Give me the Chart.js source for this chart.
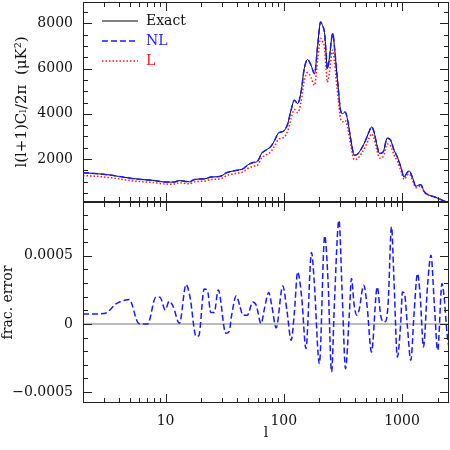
<!DOCTYPE html>
<html>
<head>
<meta charset="utf-8">
<script src="https://cdn.jsdelivr.net/npm/chart.js@4.4.1/dist/chart.umd.min.js"></script>
<style>
  html, body { margin: 0; padding: 0; background: #fff; }
  #wrap { position: relative; width: 450px; height: 450px; overflow: hidden; }
  #top { position: absolute; left: 0; top: 0; }
  #bottom { position: absolute; left: 0; top: 200px; }
</style>
</head>
<body>
<div id="wrap">
  <canvas id="top" width="450" height="204"></canvas>
  <canvas id="bottom" width="450" height="250"></canvas>
</div>
<script>
// multipole values for the power spectrum panel
const specEll = [2, 2.5, 3, 3.5, 4, 5, 6, 7, 8, 9, 10, 11, 12, 13, 14, 15, 16, 17, 18, 20,
  22, 24, 27, 30, 33, 36, 40, 45, 50, 55, 60, 65, 70, 78, 85, 90, 100, 108, 115, 123,
  131, 140, 149, 159, 170, 182, 194, 205, 213, 221, 228, 233, 245, 253, 260, 268, 278, 290, 302, 315,
  330, 347, 370, 394, 420, 454, 493, 526, 555, 580, 610, 647, 695, 750, 802, 857, 914, 977, 1043, 1100,
  1150, 1227, 1311, 1380, 1444, 1540, 1700, 1875, 2067, 2280, 2500];

const exactVals = [1390, 1360, 1320, 1280, 1230, 1150, 1100, 1070, 1050, 1000, 980, 975, 985, 1040, 1030, 1000, 990, 1060, 1100, 1110,
  1130, 1200, 1210, 1260, 1400, 1450, 1500, 1560, 1750, 1840, 1900, 2250, 2380, 2560, 2900, 3150, 3240, 3560, 4150, 4600,
  4450, 4970, 6000, 6400, 6150, 5780, 7100, 8070, 7900, 7600, 6700, 6000, 6600, 7300, 7560, 7000, 6080, 5050, 4160, 4010,
  4080, 3720, 2830, 2170, 2210, 2460, 2830, 3200, 3420, 3200, 2680, 2240, 2320, 2920, 2830, 2390, 2090, 1650, 1200, 1380,
  1470, 1180, 790, 840, 860, 560, 395, 330, 235, 135, 95];

const nlVals = [1390, 1360, 1320, 1280, 1230, 1150, 1100, 1070, 1050, 1000, 980, 975, 985, 1040, 1030, 1000, 990, 1060, 1100, 1110,
  1130, 1200, 1210, 1260, 1400, 1450, 1500, 1560, 1750, 1840, 1900, 2250, 2380, 2560, 2900, 3150, 3240, 3560, 4150, 4600,
  4450, 4970, 6000, 6400, 6150, 5780, 7100, 8070, 7900, 7600, 6700, 6000, 6600, 7300, 7560, 7000, 6080, 5050, 4160, 4010,
  4080, 3720, 2830, 2170, 2210, 2460, 2830, 3200, 3420, 3200, 2680, 2240, 2320, 2920, 2830, 2390, 2090, 1650, 1200, 1380,
  1470, 1180, 790, 840, 860, 560, 395, 330, 235, 135, 95];

const linVals = [1265, 1240, 1200, 1165, 1120, 1045, 1000, 975, 955, 910, 890, 885, 895, 945, 935, 910, 900, 965, 1000, 1010,
  1030, 1090, 1100, 1145, 1270, 1320, 1365, 1420, 1590, 1675, 1730, 2045, 2165, 2330, 2640, 2865, 2950, 3240, 3775, 4185,
  4050, 4520, 5460, 5825, 5600, 5260, 6460, 7340, 7190, 6920, 6000, 5400, 5950, 6570, 6820, 6300, 5470, 4590, 3785, 3650,
  3710, 3380, 2575, 1970, 2010, 2240, 2575, 2910, 3110, 2910, 2440, 2040, 2110, 2660, 2575, 2175, 1900, 1500, 1100, 1260,
  1340, 1060, 730, 770, 810, 530, 380, 318, 228, 132, 93];

// fractional error panel
const errEll = [2, 2.75, 3.13, 3.8, 4.6, 4.93, 5.8, 6.18, 7.04, 8.28, 8.95, 9.94, 10.7, 11.5, 13.1, 14.9, 16.1, 18.1, 19.1, 21.2,
  22.6, 24.1, 25.8, 27.9, 32.3, 34.5, 36.2, 39.6, 42.3, 45.1, 49.1, 54.7, 58.4, 64.3, 68.6, 74.6, 79, 86.2, 98, 106.7,
  115.4, 123, 131, 142, 154, 171.6, 181, 200, 222, 237, 254, 268, 293, 313, 333, 358, 374, 394, 415, 433,
  475, 506, 552, 618, 660, 696, 730, 765, 815, 857, 914, 977, 1008, 1057, 1110, 1188, 1268, 1353, 1425, 1520,
  1647, 1760, 1880, 2006, 2180, 2280, 2400, 2500];

const errVals = [0.74e-4, 0.74e-4, 0.8e-4, 1.47e-4, 1.76e-4, 1.79e-4, 0.12e-4, 0, 0, 1.96e-4, 1.96e-4, 1.03e-4, 1.66e-4, 1.35e-4, 0.05e-4, 2.89e-4, 1.96e-4, -0.91e-4, -0.86e-4, 2.57e-4,
  2.45e-4, 0.85e-4, 0.85e-4, 2.5e-4, -0.69e-4, -0.55e-4, 0.64e-4, 2.06e-4, 1.38e-4, 0.64e-4, 0.64e-4, 1.62e-4, 1.38e-4, 0.03e-4, 1.13e-4, 2.31e-4, 1.38e-4, -0.29e-4, 2.79e-4, 0.88e-4,
  -1.2e-4, 0.88e-4, 3.82e-4, 1.87e-4, -1.81e-4, 5.25e-4, 3.09e-4, -2.91e-4, 6.47e-4, 3.09e-4, -3.53e-4, 1.5e-4, 7.6e-4, 1.87e-4, -3.28e-4, 0.64e-4, 3.34e-4, 1.38e-4, 0.64e-4, 1.0e-4,
  2.85e-4, 1.38e-4, -2.06e-4, 2.72e-4, 0.64e-4, 0.15e-4, 0.2e-4, 1.62e-4, 7.13e-4, 3.09e-4, -2.42e-4, 0.15e-4, 2.35e-4, 2.1e-4, -0.1e-4, -2.67e-4, 0.88e-4, 3.7e-4, 2.1e-4, -1.69e-4,
  2.85e-4, 5.05e-4, 1.38e-4, -1.93e-4, 2.97e-4, 1.87e-4, -0.59e-4, -1.8e-4];

const zeroEll = [2, 2500];
const zeroVals = [0, 0];

// axes
const xRange = [2, 2500];
const xLabelTicks = [10, 100, 1000];
const xMinorTicks = [2, 3, 4, 5, 6, 7, 8, 9, 20, 30, 40, 50, 60, 70, 80, 90, 200, 300, 400, 500, 600, 700, 800, 900, 2000];
const topYRange = [95, 8950];
const topYLabels = [2000, 4000, 6000, 8000];
const botYRange = [-0.00058, 0.000895];
const botYLabels = [-0.0005, 0, 0.0005];

const legendOrder = ['Exact', 'NL', 'L'];

function range(a, b, step) {
  const out = [];
  for (let k = a; k <= b; k += step) out.push(k);
  return out;
}
function pts(xs, ys) {
  return xs.map((x, i) => ({x: x, y: ys[i]}));
}

const FONT = 'DejaVu Serif';
const INK = '#111';
Chart.defaults.font.family = FONT;
Chart.defaults.color = INK;

// frame with inward tick marks on every side
const frameTicks = {
  id: 'frameTicks',
  afterDatasetsDraw(chart, args, opts) {
    const ctx = chart.ctx, a = chart.chartArea;
    const xs = chart.scales.x, ys = chart.scales.y;
    ctx.save();
    ctx.strokeStyle = '#222';
    ctx.lineWidth = 1;
    ctx.beginPath();
    xMinorTicks.concat(xLabelTicks).forEach(v => {
      const len = xLabelTicks.includes(v) ? 9 : 5;
      const px = Math.round(xs.getPixelForValue(v)) + 0.5;
      ctx.moveTo(px, a.top); ctx.lineTo(px, a.top + len);
      ctx.moveTo(px, a.bottom); ctx.lineTo(px, a.bottom - len);
    });
    opts.yMinor.concat(opts.yMajor).forEach(v => {
      const len = opts.yMajor.some(m => Math.abs(m - v) < 1e-12) ? 9 : 5;
      const py = Math.round(ys.getPixelForValue(v)) + 0.5;
      ctx.moveTo(a.left, py); ctx.lineTo(a.left + len, py);
      ctx.moveTo(a.right, py); ctx.lineTo(a.right - len, py);
    });
    ctx.stroke();
    ctx.strokeRect(a.left + 0.5, a.top + 0.5, a.right - a.left - 1, a.bottom - a.top - 1);
    ctx.restore();
  }
};

// legend drawn inside the top panel
const legendBox = {
  id: 'legendBox',
  afterDatasetsDraw(chart) {
    const ctx = chart.ctx, a = chart.chartArea;
    ctx.save();
    ctx.font = '14px "' + FONT + '"';
    ctx.textBaseline = 'middle';
    legendOrder.forEach((label, i) => {
      const ds = chart.data.datasets.find(d => d.label === label);
      const y = a.top + 19 + i * 20;
      ctx.strokeStyle = ds.borderColor;
      ctx.lineWidth = ds.borderWidth;
      ctx.setLineDash(ds.borderDash || []);
      ctx.beginPath();
      ctx.moveTo(a.left + 19, y);
      ctx.lineTo(a.left + 55, y);
      ctx.stroke();
      ctx.setLineDash([]);
      ctx.fillStyle = label === 'Exact' ? INK : ds.borderColor;
      ctx.fillText(label, a.left + 63, y);
    });
    ctx.restore();
  }
};

// fixed axis width, no extra room for half tick labels
function fixY(s) {
  s.width = 83;
  s.paddingTop = 0;
  s.paddingBottom = 0;
}

const lineStyle = {pointRadius: 0, fill: false, cubicInterpolationMode: 'monotone'};
const noGrid = {display: false, drawTicks: false};

new Chart(document.getElementById('top'), {
  type: 'line',
  data: {
    datasets: [
      Object.assign({label: 'Exact', data: pts(specEll, exactVals), borderColor: '#000', borderWidth: 1, order: 3}, lineStyle),
      Object.assign({label: 'L', data: pts(specEll, linVals), borderColor: '#ff1a1a', borderWidth: 1.5, borderDash: [1.5, 2], order: 2}, lineStyle),
      Object.assign({label: 'NL', data: pts(specEll, nlVals), borderColor: '#1a1aff', borderWidth: 1.5, borderDash: [6, 3], order: 1}, lineStyle)
    ]
  },
  options: {
    responsive: false,
    animation: false,
    devicePixelRatio: 1,
    layout: {padding: {top: 2, right: 1, bottom: 2, left: 0}},
    plugins: {
      legend: {display: false},
      tooltip: {enabled: false},
      frameTicks: {yMinor: range(500, 8500, 500), yMajor: topYLabels}
    },
    scales: {
      x: {type: 'logarithmic', display: false, min: xRange[0], max: xRange[1]},
      y: {
        min: topYRange[0], max: topYRange[1],
        afterBuildTicks: s => { s.ticks = topYLabels.map(v => ({value: v})); },
        afterFit: fixY,
        grid: noGrid,
        border: {display: false},
        ticks: {padding: 10, font: {size: 14}, callback: v => String(v)},
        title: {display: true, text: 'l(l+1)C\u2097/2\u03c0  (\u03bcK\u00b2)', font: {size: 15}, padding: {top: 13, bottom: 0}}
      }
    }
  },
  plugins: [frameTicks, legendBox]
});

new Chart(document.getElementById('bottom'), {
  type: 'line',
  data: {
    datasets: [
      Object.assign({label: 'zero', data: pts(zeroEll, zeroVals), borderColor: '#bdbdbd', borderWidth: 2, order: 2}, lineStyle),
      Object.assign({label: 'NL', data: pts(errEll, errVals), borderColor: '#1a1aff', borderWidth: 1.5, borderDash: [6, 3], order: 1}, lineStyle)
    ]
  },
  options: {
    responsive: false,
    animation: false,
    devicePixelRatio: 1,
    layout: {padding: {top: 2, right: 1, bottom: 0, left: 0}},
    plugins: {
      legend: {display: false},
      tooltip: {enabled: false},
      frameTicks: {yMinor: range(-5, 8, 1).map(k => k * 1e-4), yMajor: botYLabels}
    },
    scales: {
      x: {
        type: 'logarithmic', min: xRange[0], max: xRange[1],
        afterBuildTicks: s => { s.ticks = xLabelTicks.map(v => ({value: v})); },
        afterFit: s => { s.height = 47; s.paddingLeft = 0; s.paddingRight = 0; },
        grid: noGrid,
        border: {display: false},
        ticks: {autoSkip: false, maxRotation: 0, padding: 10, font: {size: 14}, callback: v => String(v)},
        title: {display: true, text: 'l', font: {size: 14}, padding: {top: 0, bottom: 8}}
      },
      y: {
        min: botYRange[0], max: botYRange[1],
        afterBuildTicks: s => { s.ticks = botYLabels.map(v => ({value: v})); },
        afterFit: fixY,
        grid: noGrid,
        border: {display: false},
        ticks: {padding: 10, font: {size: 14}, callback: v => v === 0 ? '0' : (v < 0 ? '\u2212' : '') + Math.abs(v).toFixed(4)},
        title: {display: true, text: 'frac. error', font: {size: 14}, padding: {top: 0, bottom: 0}}
      }
    }
  },
  plugins: [frameTicks]
});
</script>
</body>
</html>
